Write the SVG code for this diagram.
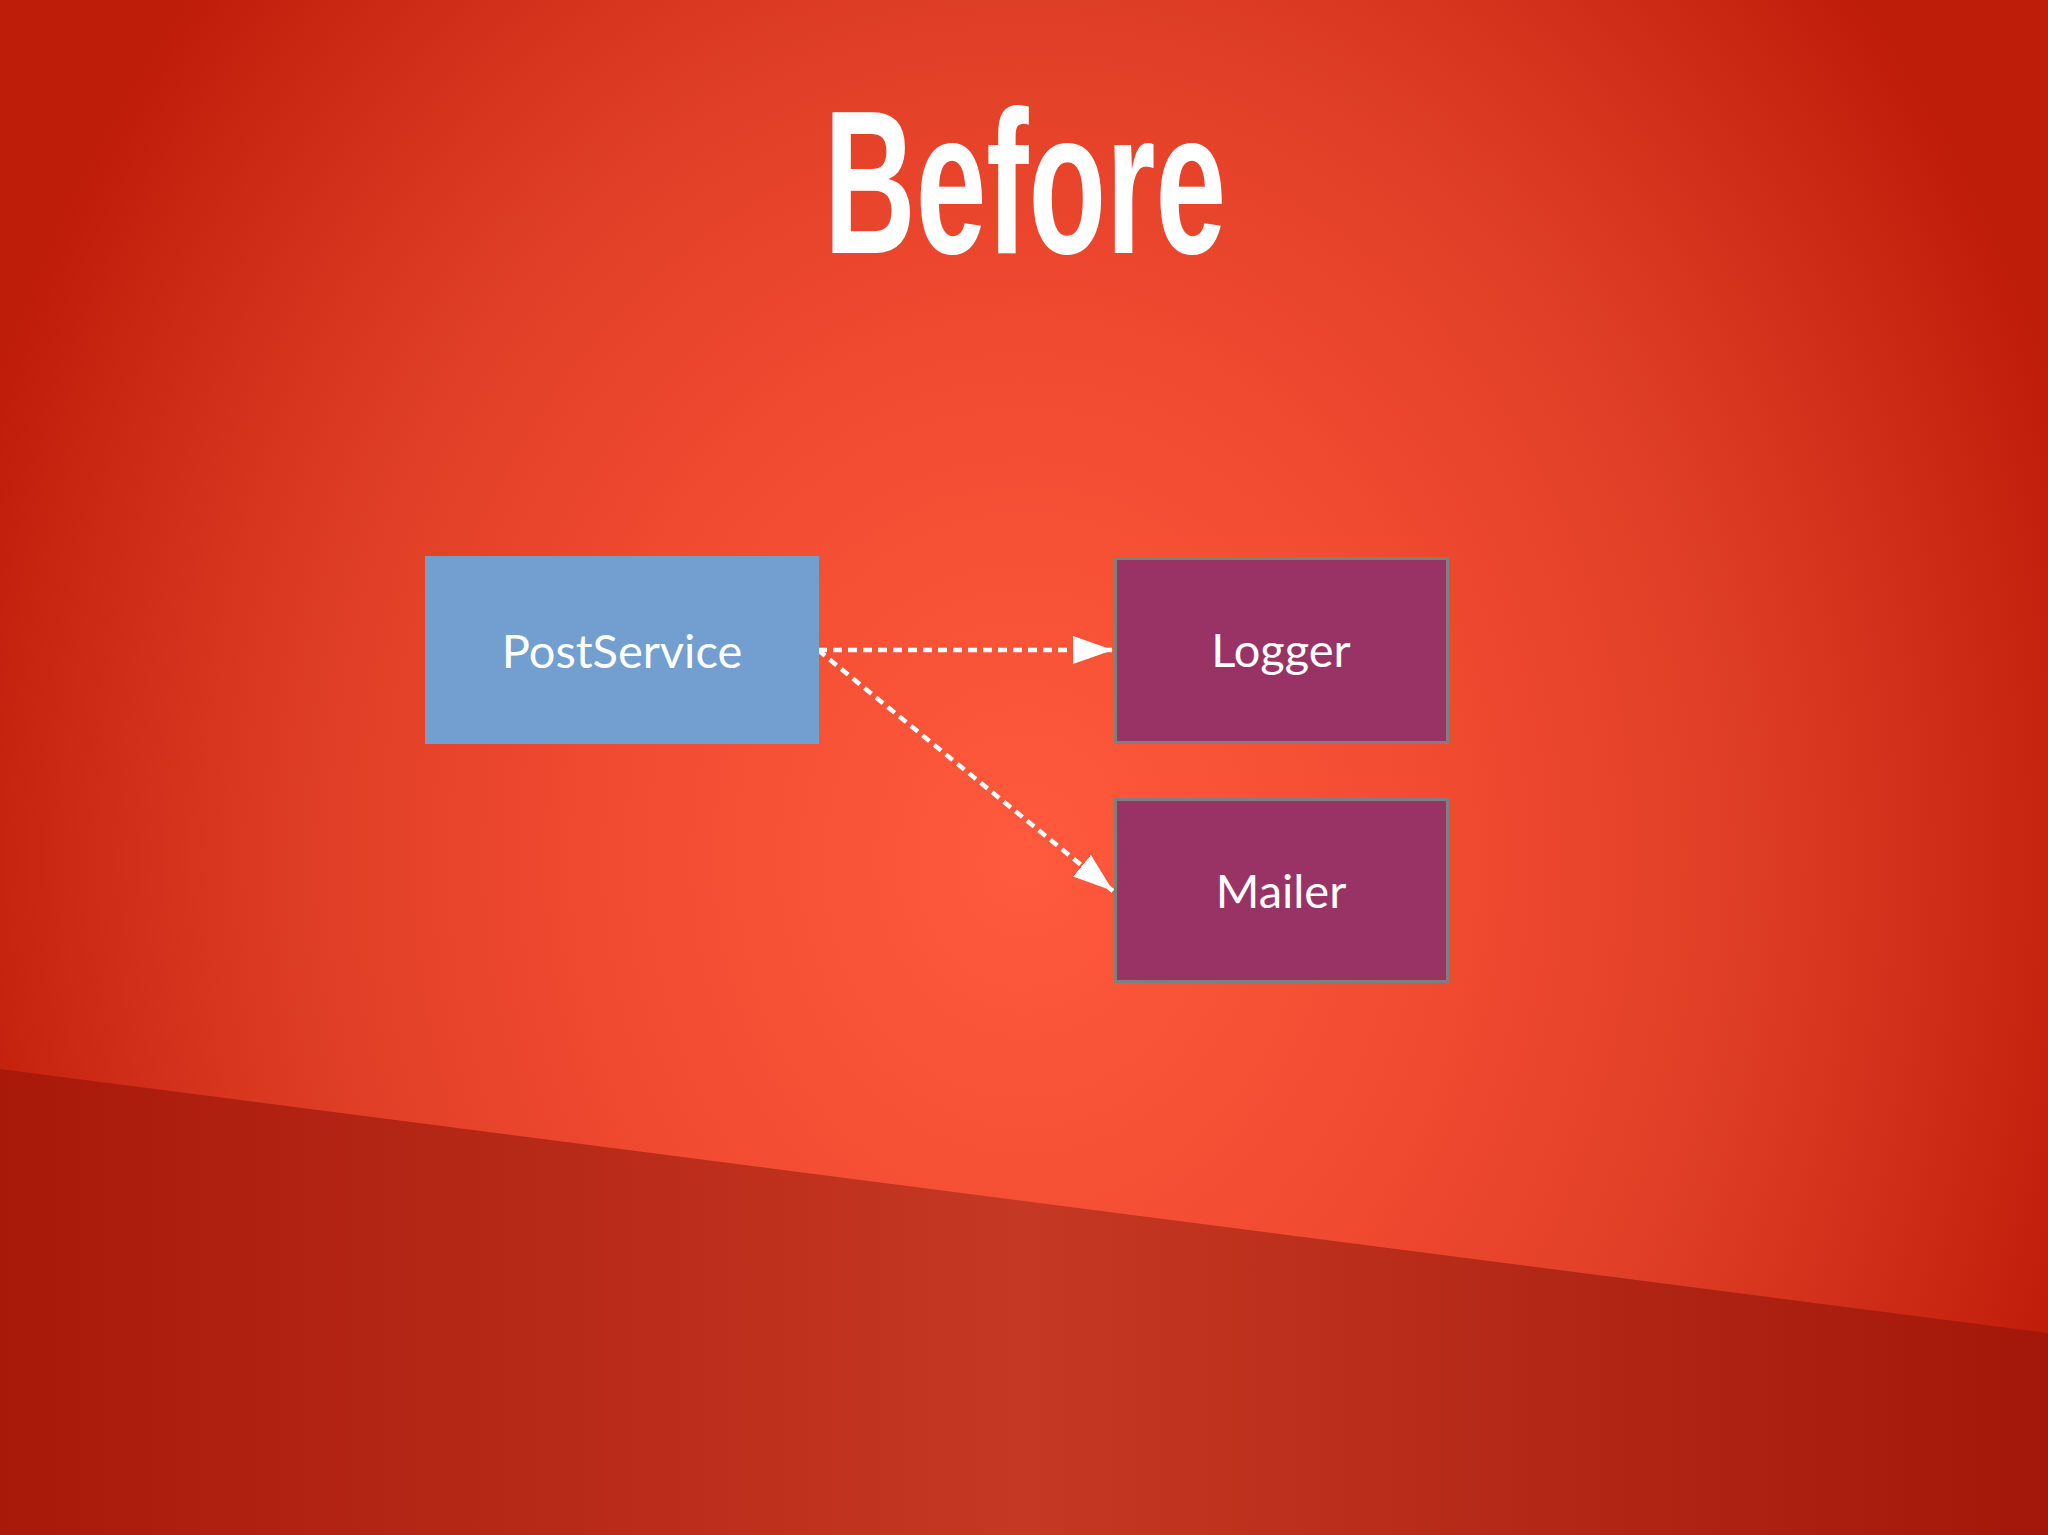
<svg xmlns="http://www.w3.org/2000/svg" width="2048" height="1535" viewBox="0 0 2048 1535">
  <defs>
    <radialGradient id="bg" gradientUnits="userSpaceOnUse" cx="1024" cy="860" r="1100" gradientTransform="translate(1024 860) scale(1 1.2) translate(-1024 -860)">
      <stop offset="0" stop-color="#FF5A3D"/>
      <stop offset="0.4" stop-color="#F04A30"/>
      <stop offset="0.65" stop-color="#DF3E26"/>
      <stop offset="0.93" stop-color="#C6240F"/>
      <stop offset="1" stop-color="#BE1D0A"/>
    </radialGradient>
    <linearGradient id="band" gradientUnits="userSpaceOnUse" x1="0" y1="0" x2="2048" y2="0">
      <stop offset="0" stop-color="#A8190A"/>
      <stop offset="0.5" stop-color="#C53823"/>
      <stop offset="1" stop-color="#A3170A"/>
    </linearGradient>
    <marker id="arrow" markerUnits="userSpaceOnUse" viewBox="0 0 40 28" refX="40" refY="14" markerWidth="40" markerHeight="28" orient="auto">
      <path d="M0,0 L40,14 L0,28 Z" fill="#FFFFFF"/>
    </marker>
    <style>
      .label { font-family: Lato, "Open Sans", "Liberation Sans", sans-serif; font-size: 47px; fill: #FFFFFF; text-anchor: middle; }
      .svc { fill: #729FCF; }
      .dep { fill: #993366; stroke: #7F7F7F; stroke-width: 3; }
      .conn { fill: none; stroke: #FFFFFF; stroke-width: 4.5; stroke-dasharray: 9 6; }
    </style>
  </defs>

  <g id="background">
    <rect x="0" y="0" width="2048" height="1535" fill="url(#bg)"/>
    <polygon points="0,1069 2048,1333 2048,1535 0,1535" fill="url(#band)"/>
  </g>

  <g id="title">
    <text x="824" y="253" textLength="402" lengthAdjust="spacingAndGlyphs" font-family="'Liberation Sans', Arial, sans-serif" font-weight="bold" font-size="204" fill="#FFFFFF">Before</text>
  </g>

  <g id="connectors">
    <line class="conn" x1="818" y1="650" x2="1113" y2="650" marker-end="url(#arrow)"/>
    <line class="conn" x1="818" y1="650" x2="1113" y2="891" marker-end="url(#arrow)"/>
  </g>

  <g id="node-postservice">
    <rect class="svc" x="425" y="556" width="394" height="188"/>
    <text class="label" x="622" y="668">PostService</text>
  </g>

  <g id="node-logger">
    <rect class="dep" x="1115.5" y="558.5" width="332" height="184"/>
    <text class="label" x="1281" y="667">Logger</text>
  </g>

  <g id="node-mailer">
    <rect class="dep" x="1115.5" y="799.5" width="332" height="182"/>
    <text class="label" x="1281" y="908">Mailer</text>
  </g>
</svg>
